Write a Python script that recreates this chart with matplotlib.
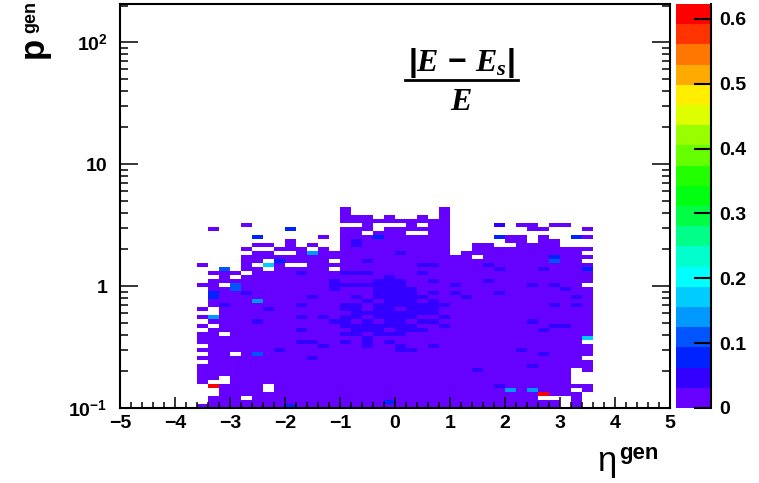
import numpy as np
import matplotlib
matplotlib.use("Agg")
import matplotlib.pyplot as plt
from matplotlib.colors import ListedColormap, BoundaryNorm
from matplotlib.ticker import MultipleLocator, LogLocator, NullFormatter
from matplotlib.lines import Line2D

plt.rcParams['font.family'] = ['Liberation Sans', 'DejaVu Sans']
plt.rcParams['font.weight'] = 'bold'
plt.rcParams['mathtext.fontset'] = 'custom'
plt.rcParams['mathtext.rm'] = 'Liberation Sans:bold'
plt.rcParams['mathtext.bf'] = 'Liberation Sans:bold'
plt.rcParams['mathtext.sf'] = 'Liberation Sans:bold'
plt.rcParams['mathtext.it'] = 'Liberation Serif:bold:italic'

# ---------------- data ----------------
eta_centers = [-3.5, -3.3, -3.1, -2.9, -2.7, -2.5, -2.3, -2.1, -1.9, -1.7, -1.5, -1.3,
               -1.1, -0.9, -0.7, -0.5, -0.3, -0.1, 0.1, 0.3, 0.5, 0.7, 0.9, 1.1,
               1.3, 1.5, 1.7, 1.9, 2.1, 2.3, 2.5, 2.7, 2.9, 3.1, 3.3, 3.5]
# upper / lower edge (p) of the filled region in each eta column
column_top_p = [0.42, 1.3, 1.4, 1.3, 1.75, 1.8, 1.8, 2.05, 2.4, 2.0, 1.8, 1.8,
                1.8, 4.2, 3.6, 3.6, 3.5, 3.6, 3.5, 3.3, 3.6, 3.3, 4.4, 1.7,
                1.92, 2.25, 2.25, 2.5, 2.5, 2.5, 2.2, 2.5, 2.3, 2.0, 2.0, 1.95]
column_bottom_p = [0.17] + [0.1] * 34 + [0.21]
base_value = 0.015

# isolated filled cells outside the main region (eta, p)
sparse_cells = [(-3.5, 1.49), (-3.5, 1.02), (-3.5, 0.645), (-3.5, 0.545), (-3.5, 0.48),
                (-3.5, 0.104), (-3.3, 3.0), (-2.7, 3.2), (-2.7, 2.0), (-2.5, 2.2),
                (-2.3, 2.2), (-1.5, 2.2), (-1.3, 2.0), (-1.3, 2.45), (2.3, 3.2),
                (2.5, 3.2), (2.5, 2.95), (2.7, 2.95), (2.9, 3.2), (3.1, 3.2),
                (3.5, 2.9), (3.5, 2.5), (3.5, 0.15), (3.5, 0.14)]
# empty cells inside the region (eta, p)
empty_cells = [(-3.5, 0.32), (-3.5, 0.27), (-3.5, 0.24),
               (-3.3, 1.2), (-3.3, 0.65), (-3.3, 0.6), (-3.3, 0.47), (-3.3, 0.17),
               (-3.3, 0.16), (-3.3, 0.145), (-3.3, 0.135), (-3.3, 0.128),
               (-3.1, 1.02), (-3.1, 0.42), (-3.1, 0.175), (-3.1, 0.16),
               (-2.9, 1.2), (-2.9, 0.28), (-2.7, 1.3), (-2.7, 0.12), (-2.5, 1.49),
               (-2.3, 1.6), (-2.3, 1.4), (-2.3, 0.15), (-2.3, 0.14), (-2.1, 1.85),
               (-1.9, 1.85), (-1.9, 1.49), (-1.7, 1.45), (-1.1, 1.55), (-1.1, 1.38),
               (-0.9, 3.27), (-0.7, 3.27), (-0.5, 2.75), (-0.3, 3.27), (-0.3, 3.05),
               (-0.1, 3.1), (0.1, 3.1), (0.3, 2.8), (0.3, 2.65), (0.5, 3.2), (0.5, 2.7),
               (1.5, 1.75), (1.9, 2.4), (1.9, 2.1), (2.1, 2.25), (2.7, 0.118),
               (2.9, 0.118), (3.1, 0.12), (3.1, 0.11), (3.1, 0.104),
               (3.3, 0.2), (3.3, 0.19), (3.3, 0.18), (3.3, 0.17), (3.3, 0.14),
               (3.5, 1.8), (3.5, 1.6), (3.5, 1.05), (3.5, 0.35), (3.5, 0.26)]
# zones with slightly higher values (eta_lo, eta_hi, p_lo, p_hi)
raised_zones = [(-1.2, -1.0, 0.95, 1.1), (-1.0, -0.6, 0.42, 0.7), (-0.6, -0.4, 0.33, 0.5),
                (-0.4, 0.2, 0.42, 1.2), (0.2, 0.4, 0.45, 1.05), (0.4, 0.6, 0.5, 0.8),
                (0.6, 0.8, 0.6, 0.75)]
raised_value = 0.045
# cells inside the raised zones that keep the base value (eta, p)
zone_base_cells = [(-0.9, 0.6), (-0.7, 0.5), (-0.3, 1.15), (-0.3, 0.75), (-0.1, 0.45),
                   (0.1, 1.15), (0.3, 1.0), (0.3, 0.5), (0.5, 0.55), (0.5, 0.75),
                   (-0.5, 0.4), (-0.9, 0.45), (0.1, 0.62), (-0.3, 0.5)]
raised_cells = [(-1.7, 1.3), (-1.7, 0.72), (-1.7, 0.55), (-1.7, 0.45), (-1.7, 0.36),
                (-1.5, 0.8), (-1.5, 0.36), (-1.5, 0.25), (-1.3, 0.55), (-1.3, 0.32),
                (-1.1, 0.5), (-0.9, 1.3), (-0.9, 1.0), (-0.7, 2.4), (-0.7, 2.2),
                (-0.7, 1.3), (-0.7, 1.0), (-0.5, 1.6), (-0.5, 1.25), (-0.5, 1.0),
                (-0.9, 0.36), (-0.7, 0.8), (-0.5, 0.6), (-0.5, 0.75), (-0.1, 0.36),
                (0.1, 1.8), (0.1, 0.33), (0.1, 0.3), (0.3, 0.3), (0.5, 1.5), (0.5, 1.3),
                (0.5, 0.45), (0.7, 0.9), (0.7, 0.5), (0.9, 0.7), (0.9, 0.55), (0.9, 0.46),
                (0.7, 1.5), (0.7, 1.1), (0.7, 0.32), (1.1, 1.0), (1.1, 0.85), (1.3, 0.78),
                (1.5, 0.2), (1.7, 1.5), (1.7, 1.1), (1.9, 0.15), (1.9, 1.38), (1.9, 0.86),
                (2.7, 1.38), (2.5, 1.0), (2.9, 1.0), (3.1, 0.92), (3.3, 0.8), (2.9, 0.7),
                (3.3, 0.7), (2.5, 0.52), (2.9, 0.47), (3.1, 0.47), (2.7, 0.43), (2.3, 0.3),
                (2.7, 0.27), (2.5, 0.22), (-2.9, 0.95), (-2.5, 0.5), (-2.3, 0.65),
                (-3.1, 0.7), (-2.1, 0.3), (-2.7, 0.9), (1.9, 3.2)]
# individual cells with notable values (eta, p, value)
special_cells = [(-3.3, 0.15, 0.61), (2.7, 0.128, 0.61),
                 (-3.3, 0.56, 0.14), (-2.5, 0.755, 0.15), (-2.3, 1.49, 0.17),
                 (-1.5, 1.8, 0.14), (3.5, 0.38, 0.18), (2.1, 0.14, 0.14), (2.5, 0.14, 0.14),
                 (-3.1, 1.4, 0.11), (-2.9, 1.0, 0.11), (-2.9, 0.92, 0.1), (-2.5, 0.277, 0.11),
                 (2.9, 1.6, 0.11), (-3.3, 0.85, 0.08), (-3.3, 0.8, 0.08), (-2.1, 1.55, 0.08),
                 (2.9, 1.75, 0.08), (3.3, 2.6, 0.08), (3.5, 1.4, 0.08), (-0.3, 2.5, 0.08),
                 (-1.9, 2.95, 0.07), (-2.5, 2.5, 0.07), (-1.9, 0.103, 0.09),
                 (-0.1, 0.11, 0.08), (1.9, 2.6, 0.07)]

x_ticks = [-5, -4, -3, -2, -1, 0, 1, 2, 3, 4, 5]
y_ticks = [0.1, 1, 10, 100]
y_tick_labels = [r'$10^{-1}$', '1', '10', r'$10^{2}$']
z_ticks = [0, 0.1, 0.2, 0.3, 0.4, 0.5, 0.6]
z_tick_labels = ['0', '0.1', '0.2', '0.3', '0.4', '0.5', '0.6']
z_max = 0.623
palette = ['#6600FF', '#3300FF', '#0022FF', '#0055FF', '#0099FF', '#00CCFF', '#00FFFF',
           '#00FFCC', '#00FF88', '#00FF44', '#00FF11', '#22FF00', '#66FF00', '#99FF00',
           '#DDFF00', '#FFEE00', '#FFAA00', '#FF7700', '#FF3300', '#FF0000']

# ---------------- histogram grid ----------------
eta_edges = np.linspace(-5, 5, 51)
n_py = 100
log_lo, log_hi = -1.0, 2.3
p_edges = np.logspace(log_lo, log_hi, n_py + 1)
dlog = (log_hi - log_lo) / n_py
Z = np.full((n_py, len(eta_edges) - 1), np.nan)


def col_of(eta):
    return int(np.floor((eta + 5) / 0.2 + 1e-6))


def row_of(p):
    return int(np.floor((np.log10(p) - log_lo) / dlog))


for eta, top, bot in zip(eta_centers, column_top_p, column_bottom_p):
    c = col_of(eta)
    Z[row_of(bot):row_of(top) + 1, c] = base_value
for e0, e1, p0, p1 in raised_zones:
    for c in range(col_of(e0 + 0.1), col_of(e1 - 0.1) + 1):
        for r in range(row_of(p0), row_of(p1) + 1):
            if not np.isnan(Z[r, c]):
                Z[r, c] = raised_value
for eta, p in zone_base_cells:
    Z[row_of(p), col_of(eta)] = base_value
for eta, p in raised_cells:
    Z[row_of(p), col_of(eta)] = raised_value
for eta, p in sparse_cells:
    Z[row_of(p), col_of(eta)] = base_value
for eta, p in empty_cells:
    Z[row_of(p), col_of(eta)] = np.nan
for eta, p, v in special_cells:
    Z[row_of(p), col_of(eta)] = v

Zm = np.ma.masked_invalid(Z)

# ---------------- figure ----------------
W, H = 759, 483
fig = plt.figure(figsize=(W / 100, H / 100), dpi=100)
ax = fig.add_axes([120 / W, 75 / H, 550 / W, 404 / H])
cax = fig.add_axes([676 / W, 75 / H, 35 / W, 404 / H])

cmap = ListedColormap(palette)
levels = np.linspace(0, z_max, len(palette) + 1)
norm = BoundaryNorm(levels, cmap.N)
mesh = ax.pcolormesh(eta_edges, p_edges, Zm, cmap=cmap, norm=norm, shading='flat')

ax.set_xlim(-5, 5)
ax.set_yscale('log')
ax.set_ylim(0.1, 206)
ax.set_xticks(x_ticks)
ax.xaxis.set_minor_locator(MultipleLocator(0.2))
ax.set_yticks(y_ticks)
ax.set_yticklabels(y_tick_labels)
ax.yaxis.set_minor_locator(LogLocator(base=10, subs=np.arange(2, 10)))
ax.yaxis.set_minor_formatter(NullFormatter())
ax.tick_params(axis='x', which='major', direction='in', length=8, width=1.1,
               labelsize=14, pad=5, top=False)
ax.tick_params(axis='x', which='minor', direction='in', length=4, width=1.1, top=False)
ax.tick_params(axis='y', which='major', direction='in', length=13, width=1.1,
               labelsize=14, pad=9, right=True)
ax.tick_params(axis='y', which='minor', direction='in', length=6, width=1.1, right=True)
for s in ax.spines.values():
    s.set_linewidth(1.5)

cb = fig.colorbar(mesh, cax=cax, ticks=z_ticks)
cb.set_ticklabels(z_tick_labels)
cb.outline.set_visible(False)
cax.tick_params(direction='in', length=12, width=1.5, labelsize=14, pad=6, right=True, left=False)
cax.minorticks_off()
cax.plot([1, 1], [0, 1], transform=cax.transAxes, color='black', lw=1.5, clip_on=False)

# axis titles
fig.text(33 / W, 1 - 47 / H, 'p', rotation=90, fontsize=25, fontweight='bold',
         ha='center', va='center')
fig.text(31 / W, 1 - 17 / H, 'gen', rotation=90, fontsize=13, fontweight='bold',
         ha='center', va='center')
fig.text(607 / W, 1 - 462 / H, '\u03b7', fontsize=25, fontweight='normal',
         ha='center', va='center')
fig.text(639 / W, 1 - 453 / H, 'gen', fontsize=16, fontweight='bold',
         ha='center', va='center')

# formula
fig.text(461 / W, 1 - 71 / H, r'$|E\,-\,E_s|$', fontsize=23, ha='center', va='baseline')
fig.text(461 / W, 1 - 110 / H, r'$E$', fontsize=23, ha='center', va='baseline')
fig.add_artist(Line2D([405 / W, 518 / W], [1 - 80 / H, 1 - 80 / H], color='black', lw=2.0,
                      transform=fig.transFigure))

fig.savefig('out.png', dpi=100)
